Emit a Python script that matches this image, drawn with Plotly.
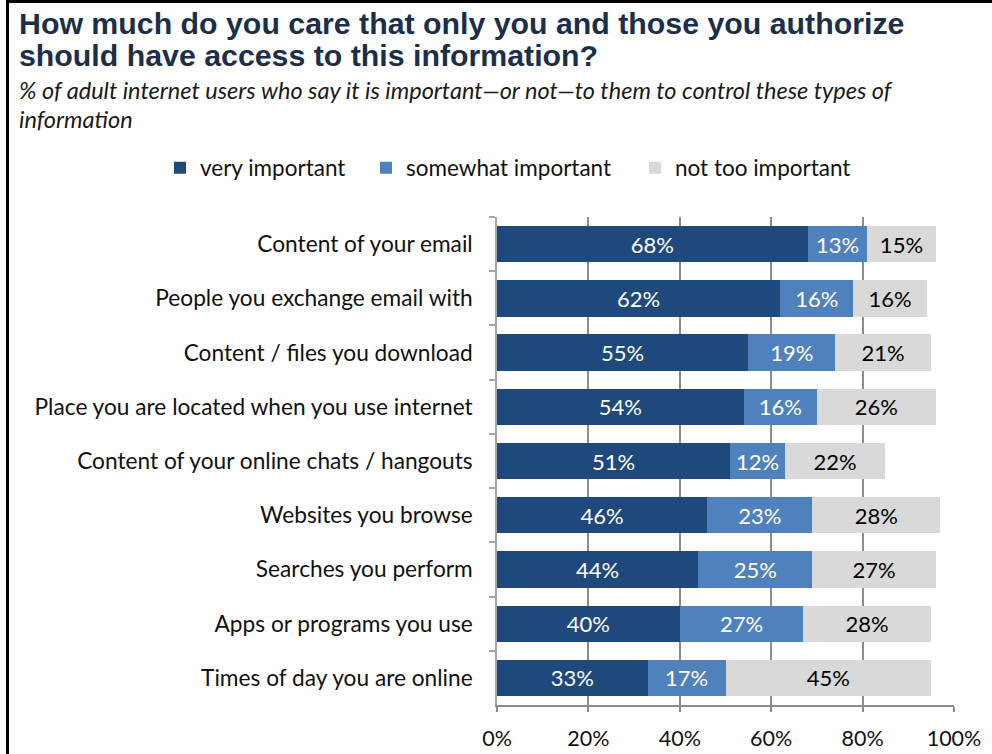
import plotly.graph_objects as go

categories = [
    "Content of your email",
    "People you exchange email with",
    "Content / files you download",
    "Place you are located when you use internet",
    "Content of your online chats / hangouts",
    "Websites you browse",
    "Searches you perform",
    "Apps or programs you use",
    "Times of day you are online",
]
very_important = [68, 62, 55, 54, 51, 46, 44, 40, 33]
somewhat_important = [13, 16, 19, 16, 12, 23, 25, 27, 17]
not_too_important = [15, 16, 21, 26, 22, 28, 27, 28, 45]

# name, values, bar colour, label colour, legend id, legend left edge (px)
series = [
    ("very important", very_important, "#1F497D", "white", "legend", 160),
    ("somewhat important", somewhat_important, "#4F81BD", "white", "legend2", 366),
    ("not too important", not_too_important, "#D9D9D9", "black", "legend3", 635),
]

W, H = 992, 754
ML, MR, MT, MB = 497, 38, 217, 49
PW, PH = W - ML - MR, H - MT - MB

def px_x(p):
    return (p - ML) / PW

def px_y(p):
    return 1 - (p - MT) / PH

label_font = "Lato, Carlito, Calibri, 'Open Sans', sans-serif"
title_font = "'Liberation Sans', Arial, sans-serif"

fig = go.Figure()
legends = {}
for name, vals, color, tcolor, leg, leg_x in series:
    fig.add_trace(go.Bar(
        y=categories,
        x=vals,
        name=name,
        orientation="h",
        legend=leg,
        marker=dict(color=color, line=dict(width=0)),
        text=[f"{v}%" for v in vals],
        textposition="inside",
        insidetextanchor="middle",
        textangle=0,
        constraintext="none",
        textfont=dict(color=tcolor, size=22, family=label_font),
        hoverinfo="skip",
    ))
    legends[leg] = dict(
        orientation="h",
        xref="container",
        yref="container",
        x=leg_x / W,
        xanchor="left",
        y=1 - 168 / H,
        yanchor="middle",
        font=dict(size=22.5, family=label_font, color="#111111"),
        itemwidth=30,
        bgcolor="rgba(0,0,0,0)",
    )

title_lines = [
    "How much do you care that only you and those you authorize",
    "should have access to this information?",
]
subtitle_lines = [
    "% of adult internet users who say it is important\u2014or not\u2014to them to control these types of",
    "information",
]

annotations = []
for text, ypx in zip(title_lines, [23, 56]):
    annotations.append(dict(
        text=f"<b>{text}</b>",
        xref="paper", yref="paper", x=px_x(17), y=px_y(ypx),
        xanchor="left", yanchor="middle", showarrow=False,
        font=dict(size=30.3, family=title_font, color="#1B2F4B"),
    ))
for text, ypx in zip(subtitle_lines, [90, 119]):
    annotations.append(dict(
        text=f"<i>{text}</i>",
        xref="paper", yref="paper", x=px_x(17), y=px_y(ypx),
        xanchor="left", yanchor="middle", showarrow=False,
        font=dict(size=23.5, family=label_font, color="#1A1A1A"),
    ))

fig.update_layout(
    width=W,
    height=H,
    barmode="stack",
    bargap=0.33,
    plot_bgcolor="white",
    paper_bgcolor="white",
    margin=dict(l=ML, r=MR, t=MT, b=MB, autoexpand=False),
    showlegend=True,
    xaxis=dict(
        range=[0, 100],
        tickvals=[0, 20, 40, 60, 80, 100],
        ticktext=["0%", "20%", "40%", "60%", "80%", "100%"],
        showgrid=True,
        gridcolor="#8C8C8C",
        gridwidth=1.5,
        showline=True,
        linecolor="#8C8C8C",
        linewidth=2,
        ticks="outside",
        ticklen=5,
        tickcolor="#8C8C8C",
        tickwidth=2,
        ticklabelstandoff=8,
        tickfont=dict(size=21.5, family=label_font, color="#111111"),
        zeroline=False,
        fixedrange=True,
    ),
    yaxis=dict(
        autorange="reversed",
        showline=True,
        linecolor="#A6A6A6",
        linewidth=1.5,
        ticks="outside",
        tickson="boundaries",
        ticklen=6,
        tickcolor="#A6A6A6",
        tickwidth=1.5,
        ticklabelstandoff=18,
        tickfont=dict(size=22.7, family=label_font, color="#111111"),
        showgrid=False,
        fixedrange=True,
    ),
    annotations=annotations,
    shapes=[
        dict(type="line", xref="paper", yref="paper",
             x0=px_x(7.5), x1=px_x(7.5), y0=px_y(0), y1=px_y(H),
             line=dict(color="black", width=3)),
        dict(type="line", xref="paper", yref="paper",
             x0=px_x(6), x1=px_x(W), y0=px_y(1.5), y1=px_y(1.5),
             line=dict(color="black", width=3)),
    ],
    **legends,
)

fig.write_html("out.html")
